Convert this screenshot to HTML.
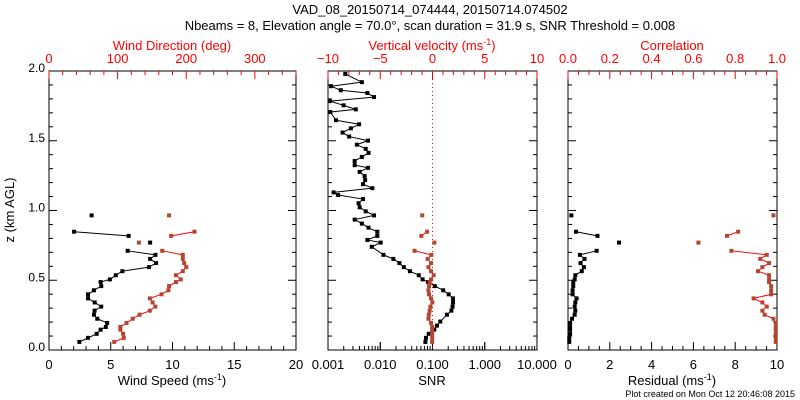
<!DOCTYPE html>
<html><head><meta charset="utf-8"><style>
html,body{margin:0;padding:0;background:#fff;}
svg{display:block;font-family:"Liberation Sans",sans-serif;}
</style></head><body>
<svg id="c" width="800" height="400" viewBox="0 0 800 400">
<text x="430" y="14" font-size="13" text-anchor="middle">VAD_08_20150714_074444, 20150714.074502</text>
<text x="430" y="30" font-size="13" text-anchor="middle">Nbeams = 8, Elevation angle = 70.0°, scan duration = 31.9 s, SNR Threshold = 0.008</text>
<text x="795" y="397" font-size="9" text-anchor="end">Plot created on Mon Oct 12 20:46:08 2015</text>
</svg>
<script>
const zLow = [0.965,0.935,0.906,0.877,0.848,0.818,0.789,0.770,0.740,0.711,0.682,0.653,0.623,0.594,0.565,0.536,0.506,0.487,0.458,0.428,0.399,0.370,0.341,0.311,0.282,0.253,0.224,0.194,0.165,0.146,0.116,0.087,0.058];
const windSpeed = [3.45,null,null,null,2.03,6.45,null,8.19,null,6.37,8.62,8.19,8.67,8.09,5.94,5.41,4.93,4.18,4.23,3.64,3.16,3.16,3.7,4.23,3.69,3.64,3.91,4.71,4.6,4.18,3.86,3.16,2.46];
const windDir = [175,null,null,null,212,178,null,131,null,165,195,195,197,200,195,185,192,185,175,174,164,147,151,155,147,132,122,113,104,104,108,109,95];
const vertVel = [-0.98,null,null,null,-0.52,-1.07,null,0.18,null,-1.72,-0.11,-0.46,-0.14,-0.39,-0.14,0.11,-0.14,-0.27,-0.33,-0.39,-0.33,-0.14,-0.01,-0.20,-0.27,-0.35,-0.39,-0.14,-0.03,-0.03,-0.03,-0.03,-0.03];
const residual = [0.16,null,null,null,0.38,1.41,null,2.44,null,1.37,0.57,0.79,0.60,0.76,0.66,0.35,0.32,0.25,0.25,0.22,0.22,0.41,0.35,0.32,0.35,0.32,0.19,0.10,0.10,0.10,0.10,0.06,0.06];
const correlation = [0.983,null,null,null,0.814,0.761,null,0.624,null,0.782,0.951,0.920,0.962,0.930,0.909,0.962,0.962,0.962,0.972,0.972,0.972,0.888,0.930,0.951,0.930,0.941,0.983,0.994,0.994,0.994,0.994,0.994,0.994];
const zSnr = [1.979,1.920,1.891,1.862,1.842,1.813,1.784,1.754,1.725,1.706,1.647,1.618,1.589,1.559,1.530,1.501,1.472,1.442,1.413,1.384,1.355,1.325,1.306,1.277,1.247,1.218,1.189,1.160,1.130,1.111,1.082,1.052,1.023,0.994,0.965,0.935,0.906,0.877,0.848,0.818,0.789,0.770,0.740,0.682,0.653,0.623,0.594,0.565,0.536,0.506,0.487,0.458,0.428,0.399,0.370,0.341,0.311,0.282,0.253,0.204,0.175,0.146,0.116,0.087,0.058];
const snr = [0.00214,0.00445,0.00114,0.00176,0.00568,0.0076,0.00108,0.00199,0.0034,0.00111,0.00142,0.00394,0.00274,0.0019,0.00254,0.00581,0.00357,0.00527,0.00596,0.00445,0.00324,0.00324,0.00581,0.00404,0.00502,0.00514,0.00467,0.00706,0.00128,0.00156,0.00467,0.00385,0.00404,0.00527,0.0076,0.00324,0.00445,0.00596,0.00879,0.00879,0.00568,0.0102,0.00689,0.0115,0.0178,0.0233,0.0283,0.037,0.0546,0.0647,0.0826,0.111,0.16,0.204,0.247,0.247,0.242,0.23,0.189,0.141,0.122,0.108,0.0847,0.075,0.0731];
const yTicks = ["0.0","0.5","1.0","1.5","2.0"];
const wsTicks = ["0","5","10","15","20"];
const wdTicks = ["0","100","200","300"];
const snrTicks = ["0.001","0.010","0.100","1.000","10.000"];
const wTicks = ["-10","-5","0","5","10"];
const resTicks = ["0","2","4","6","8","10"];
const corTicks = ["0.0","0.2","0.4","0.6","0.8","1.0"];

const NS="http://www.w3.org/2000/svg";
const svg=document.getElementById('c');
const TOP=71,BOT=350;
const RED="#ff0000", MRED="#b5452f";
function el(t,a,p){const e=document.createElementNS(NS,t);for(const k in a)e.setAttribute(k,a[k]);(p||svg).appendChild(e);return e;}
const yS=z=>BOT-(z/2)*(BOT-TOP);
function lin(d0,d1,r0,r1){return v=>r0+(v-d0)/(d1-d0)*(r1-r0);}
function logS(d0,d1,r0,r1){return v=>r0+(Math.log10(v)-Math.log10(d0))/(Math.log10(d1)-Math.log10(d0))*(r1-r0);}

function frame(x0,x1,name){
  const r=el('rect',{x:x0,y:TOP,width:x1-x0,height:BOT-TOP,fill:'none',stroke:'#000','stroke-width':1});
  
  
}
function yAxis(x0,x1,labels){
  const g=el('g',{});
  
  
  for(let i=0;i<=20;i++){const y=yS(i*0.1);const L=i%5==0?8:4;
    el('line',{x1:x0,x2:x0+L,y1:y,y2:y,stroke:'#000'},g);el('line',{x1:x1,x2:x1-L,y1:y,y2:y,stroke:'#000'},g);}
  if(labels){labels.forEach(t=>{const tx=el('text',{x:x0-4,y:yS(+t)+1,'font-size':12,'text-anchor':'end'},g);tx.textContent=t;
    
    });}
}
function xTicksLin(sc,d0,d1,minor,major,side,color){
  const y0=side=='b'?BOT:TOP, s=side=='b'?-1:1;
  for(let v=d0;v<=d1+1e-9;v+=minor){const x=sc(v);const isM=Math.abs(v/major-Math.round(v/major))<1e-6;
    el('line',{x1:x,x2:x,y1:y0,y2:y0+s*(isM?8:4),stroke:color});}
}
function xLabels(sc,labels,side,color,name){
  labels.forEach(t=>{const tx=el('text',{x:sc(+t),y:side=='b'?369:63,'font-size':13,'text-anchor':'middle',fill:color});tx.textContent=t.replace('-','\u2212');
    
    });
}
function series(xs,zs,vals,sc,lineCol,markCol,name){
  const g=el('g',{});
  
  
  for(let i=0;i<vals.length-1;i++){if(vals[i]!=null&&vals[i+1]!=null)
    el('line',{x1:sc(vals[i]),y1:yS(zs[i]),x2:sc(vals[i+1]),y2:yS(zs[i+1]),stroke:lineCol,'stroke-width':1},g);}
  vals.forEach((v,i)=>{if(v==null)return;const x=sc(v),y=yS(zs[i]);
    const m=el('rect',{x:x-2,y:y-2,width:4,height:4,fill:markCol},g);
    
    });
}

// Panel 1
const P1=[49,296];
const wsS=lin(0,20,P1[0],P1[1]), wdS=lin(0,360,P1[0],P1[1]);
frame(P1[0],P1[1],'wind-panel');yAxis(P1[0],P1[1],yTicks);
xTicksLin(wsS,0,20,1,5,'b','#000');xTicksLin(wdS,0,360,20,100,'t',RED);
xLabels(wsS,wsTicks,'b','#000','wind-speed-tick');xLabels(wdS,wdTicks,'t',RED,'wind-direction-tick');
series(null,zLow,windSpeed,wsS,'#000','#000','wind-speed-series');
series(null,zLow,windDir,wdS,RED,MRED,'wind-direction-series');
// Panel 2
const P2=[328,537];
const snrS=logS(0.001,10,P2[0],P2[1]), wS=lin(-10,10,P2[0],P2[1]);
frame(P2[0],P2[1],'snr-panel');yAxis(P2[0],P2[1],null);
for(let d=-3;d<1;d++)for(let k=1;k<=10;k++){const x=snrS(k*Math.pow(10,d));el('line',{x1:x,x2:x,y1:BOT,y2:BOT-(k==1||k==10?8:4),stroke:'#000'});}
xTicksLin(wS,-10,10,1,5,'t',RED);
xLabels(snrS,snrTicks,'b','#000','snr-tick');xLabels(wS,wTicks,'t',RED,'vertical-velocity-tick');
el('line',{x1:wS(0),x2:wS(0),y1:TOP,y2:BOT,stroke:RED,'stroke-dasharray':'1,3'});
series(null,zSnr,snr,snrS,'#000','#000','snr-series');
series(null,zLow,vertVel,wS,RED,MRED,'vertical-velocity-series');
// Panel 3
const P3=[568,777];
const rS=lin(0,10,P3[0],P3[1]), cS=lin(0,1,P3[0],P3[1]);
frame(P3[0],P3[1],'residual-panel');yAxis(P3[0],P3[1],null);
xTicksLin(rS,0,10,0.5,2,'b','#000');xTicksLin(cS,0,1,0.05,0.2,'t',RED);
xLabels(rS,resTicks,'b','#000','residual-tick');xLabels(cS,corTicks,'t',RED,'correlation-tick');
series(null,zLow,residual,rS,'#000','#000','residual-series');
series(null,zLow,correlation,cS,RED,MRED,'correlation-series');

function title(x,y,txt,col,name,rot,sup){
  const t=el('text',{x:x,y:y,'font-size':13,'text-anchor':'middle',fill:col});
  if(rot)t.setAttribute('transform','rotate(-90 '+x+' '+y+')');
  
  
  if(sup){t.appendChild(document.createTextNode(txt+' (ms'));const s=el('tspan',{dy:-5,'font-size':9},t);s.textContent='-1';const e=el('tspan',{dy:5},t);e.textContent=')';}
  else t.textContent=txt;
}
title(172,385,'Wind Speed','#000','x-axis-title-wind-speed',false,true);
title(172,50,'Wind Direction (deg)',RED,'x-axis-title-wind-direction');
title(432,50,'Vertical velocity',RED,'x-axis-title-vertical-velocity',false,true);
title(432,385,'SNR','#000','x-axis-title-snr');
title(672,50,'Correlation',RED,'x-axis-title-correlation');
title(672,385,'Residual','#000','x-axis-title-residual',false,true);
title(14,210,'z (km AGL)','#000','y-axis-title',true);
</script>
</body></html>
